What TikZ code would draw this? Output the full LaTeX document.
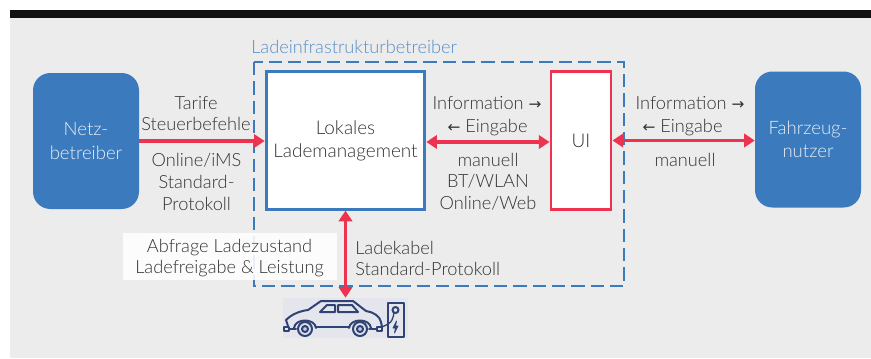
\documentclass[tikz,border=0pt]{standalone}
\usepackage{fontspec}
\setmainfont{Lato Light}
\newfontfamily\arrowfont{DejaVu Sans}
\usetikzlibrary{arrows.meta}
\definecolor{bluebox}{HTML}{3B7ABD}
\definecolor{redc}{HTML}{EE3350}
\definecolor{bgc}{HTML}{ECECEC}
\definecolor{txt}{HTML}{333333}
\definecolor{carc}{HTML}{2F4473}
\newcommand{\ra}{{\arrowfont\fontsize{11.5}{10}\selectfont →}}
\newcommand{\la}{{\arrowfont\fontsize{11.5}{10}\selectfont ←}}
\tikzset{
 lbl/.style={font=\fontsize{13.65}{16.2}\selectfont,text=txt,inner sep=0pt,align=center},
 actor/.style={fill=bluebox,draw=none,rounded corners=13pt,text=white!88!bluebox,font=\fontsize{13.9}{17.6}\selectfont,align=center,inner sep=0pt,minimum width=79.5pt,minimum height=102pt},
 panel/.style={fill=white,line width=2.2pt,font=\fontsize{14.2}{17.3}\selectfont,text=txt,align=center,inner sep=0pt,minimum height=103pt},
 twoway/.style={draw=redc,line width=2.8pt,{Triangle[length=8pt,width=10pt]}-{Triangle[length=8pt,width=10pt]}},
 oneway/.style={draw=redc,line width=2.8pt,-{Triangle[length=8pt,width=10pt]}},
 caric/.style={draw=carc,line width=1.5pt,line join=round,line cap=round},
}
\begin{document}
\begin{tikzpicture}[x=0.75pt,y=-0.75pt]
\useasboundingbox (0,0) rectangle (871,358);
\fill[white] (0,0) rectangle (871,358);
\fill[bgc] (10,18) rectangle (871,358);
\fill[black!93] (10,10) rectangle (871,18);
% operator frame
\draw[bluebox,line width=2.2pt,dash pattern=on 10pt off 4.5pt] (254,62) rectangle (624,286);
\node[lbl,text=bluebox!85!white,anchor=west] (frametitle) at (251,47) {Ladeinfrastrukturbetreiber};
% boxes
\node[actor] (netz) at (86,141) {Netz-\\betreiber};
\node[actor] (nutzer) at (808,139.5) {Fahrzeug-\\nutzer};
\node[panel,draw=bluebox,minimum width=119pt] (lokal) at (345.5,140.5) {Lokales\\Lademanagement};
\node[panel,draw=redc,minimum width=45pt] (ui) at (581,140.5) {UI};
% translucent label patch
\node[fill=white,fill opacity=0.88,inner sep=0pt,minimum width=160.5pt,minimum height=35pt,anchor=north west] (abfragebg) at (123,233) {};
\node[lbl] (abfrage) at (229.5,258) {Abfrage Ladezustand\\Ladefreigabe \& Leistung};
% car icon
\node[fill=blue!3!bgc,inner sep=0pt,minimum width=94pt,minimum height=30pt] (car) at (345.5,318) {};
\draw[caric] (288,326) -- (286,320) .. controls (292,314) and (300,311) .. (308,310) -- (321,301) -- (353,301) -- (366,311) .. controls (373,312) and (380,316) .. (381,322) -- (382,327);
\draw[caric] (320,312) -- (327,305) -- (335,305) -- (335,312) -- cycle;
\draw[caric] (338,305) -- (352,305) -- (358,312) -- (338,312) -- cycle;
\draw[caric] (284,326.5) rectangle (289,330.5);
\draw[caric] (377,327) rectangle (382,331);
\draw[caric] (289,329) -- (296,329);
\draw[caric] (294,328) .. controls (295,318) and (315,318) .. (316,328);
\draw[caric] (349,328) .. controls (350,318) and (370,318) .. (371,328);
\draw[caric] (369,329) -- (377,329);
\draw[caric] (316,327) -- (349,327);
\draw[caric,fill=blue!5!bgc] (305,329) circle (7);
\draw[caric,fill=blue!15!bgc] (305,329) circle (3);
\draw[caric,fill=blue!5!bgc] (360,329) circle (7);
\draw[caric,fill=blue!15!bgc] (360,329) circle (3);
\draw[caric] (388,303) rectangle (404,336.5);
\draw[caric] (395.5,310) circle (3);
\draw[caric,line width=1pt] (382,327) -- (388,324) .. controls (392,322) and (393,318) .. (394,313);
\draw[caric,fill=carc,line width=0.6pt] (396.5,321) -- (393,328) -- (395.5,328) -- (394.5,333) -- (398,326) -- (395.5,326) -- cycle;
% connectors
\draw[oneway] (netz.east) -- (lokal.west |- netz.east);
\draw[twoway] ([yshift=-1.1pt]lokal.east) -- ([yshift=-1.1pt]ui.west);
\draw[twoway] (ui.east) -- (nutzer.west |- ui.east);
\draw[twoway] (lokal.south) -- (car.north);
% labels
\node[lbl] (l1) at (196,113.5) {Tarife\\Steuerbefehle};
\node[lbl] (l2) at (196.5,182) {Online/iMS\\Standard-\\Protokoll};
\node[lbl] (l3) at (487,103) {Information \ra};
\node[lbl] (l4) at (487.5,128) {\la{} Eingabe};
\node[lbl] (l5) at (488,181.5) {manuell\\BT/WLAN\\Online/Web};
\node[lbl] (l6) at (690,103) {Information \ra};
\node[lbl] (l7) at (682.5,128) {\la{} Eingabe};
\node[lbl] (l8) at (685,160) {manuell};
\node[lbl,align=left,anchor=west] (l9) at (355,258.5) {Ladekabel\\Standard-Protokoll};
\end{tikzpicture}
\end{document}
